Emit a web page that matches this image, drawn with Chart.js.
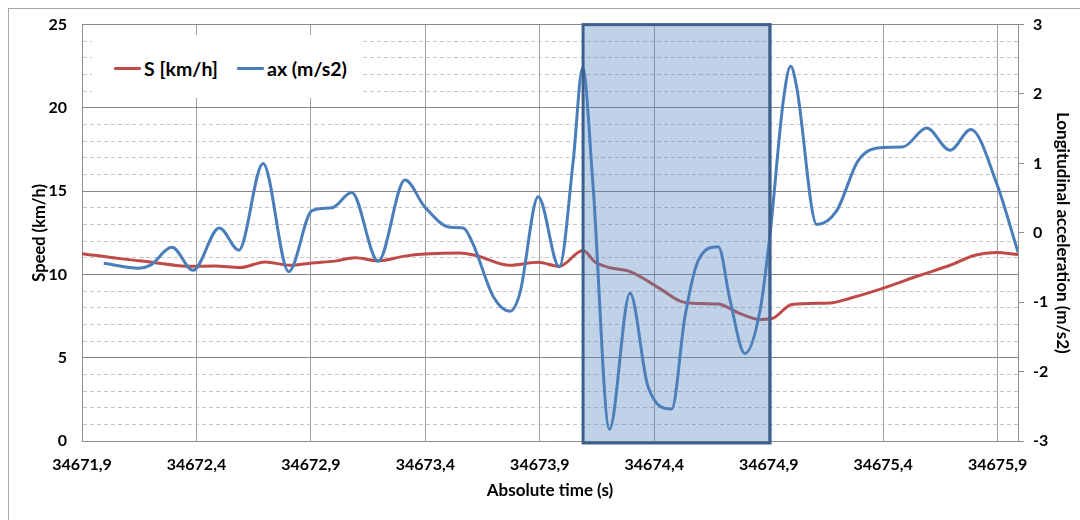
<!DOCTYPE html>
<html>
<head>
<meta charset="utf-8">
<script src="https://cdn.jsdelivr.net/npm/chart.js@4.4.1/dist/chart.umd.min.js"></script>
<style>
  html, body { margin: 0; padding: 0; background: #fff; width: 1080px; height: 520px; overflow: hidden; }
  #frame { position: absolute; left: 8px; top: 8px; width: 1200px; height: 700px; border: 1px solid #a8a8a8; }
  #wrap { position: absolute; left: 0; top: 0; width: 1080px; height: 520px; }
  #legend { position: absolute; left: 92px; top: 35px; width: 268px; height: 63px; background: #fff; }
  .item { position: absolute; top: 22px; height: 22px; display: flex; align-items: center;
          font: bold 19.5px Lato, "Open Sans", sans-serif; color: #000; white-space: nowrap; }
  .swatch { width: 27px; height: 3px; margin-right: 3px; border-radius: 1px; }
</style>
</head>
<body>
<div id="frame"></div>
<div id="wrap"><canvas id="chart" width="1080" height="520"></canvas></div>
<div id="legend"></div>
<script>
// Vehicle speed, km/h
const speedTime = [
  34671.900, 34672.066, 34672.197, 34672.372, 34672.481, 34672.590, 34672.700, 34672.809,
  34672.905, 34673.005, 34673.093, 34673.193, 34673.311, 34673.398, 34673.551, 34673.617,
  34673.770, 34673.892, 34673.984, 34674.089, 34674.141, 34674.207, 34674.294, 34674.425,
  34674.513, 34674.600, 34674.679, 34674.775, 34674.862, 34674.914, 34675.002, 34675.168,
  34675.255, 34675.395, 34675.561, 34675.692, 34675.801, 34675.893, 34675.989
];
const speedValues = [
  11.25, 10.95, 10.75, 10.49, 10.50, 10.41, 10.75, 10.55,
  10.69, 10.80, 11.00, 10.82, 11.10, 11.22, 11.29, 11.15,
  10.55, 10.73, 10.49, 11.43, 10.75, 10.40, 10.17, 9.15,
  8.40, 8.25, 8.22, 7.65, 7.30, 7.35, 8.20, 8.28,
  8.57, 9.15, 9.95, 10.55, 11.15, 11.31, 11.19
];

// Longitudinal acceleration, m/s2
const accelTime = [
  34671.995, 34672.148, 34672.197, 34672.293, 34672.385, 34672.500, 34672.585, 34672.691,
  34672.803, 34672.905, 34672.992, 34673.078, 34673.194, 34673.311, 34673.398, 34673.508,
  34673.566, 34673.608, 34673.697, 34673.770, 34673.813, 34673.893, 34673.985, 34674.046,
  34674.087, 34674.132, 34674.204, 34674.294, 34674.373, 34674.476, 34674.534, 34674.592,
  34674.680, 34674.731, 34674.796, 34674.862, 34674.906, 34674.964, 34674.996, 34675.022,
  34675.110, 34675.197, 34675.291, 34675.401, 34675.488, 34675.590, 34675.692, 34675.783,
  34675.896, 34675.989
];
const accelValues = [
  -0.44, -0.51, -0.47, -0.21, -0.54, 0.07, -0.25, 1.00,
  -0.56, 0.32, 0.36, 0.58, -0.41, 0.76, 0.37, 0.08,
  0.07, -0.16, -0.92, -1.13, -0.87, 0.52, -0.49, 1.04,
  2.38, 0.71, -2.83, -0.87, -2.22, -2.54, -1.21, -0.40,
  -0.20, -0.97, -1.74, -1.12, -0.01, 1.91, 2.40, 2.10,
  0.12, 0.32, 1.04, 1.23, 1.24, 1.51, 1.19, 1.49,
  0.71, -0.28
];

// Time axis ticks and the highlighted braking window
const timeTicks = [34671.9, 34672.4, 34672.9, 34673.4, 34673.9, 34674.4, 34674.9, 34675.4, 34675.9];
const highlightWindow = [34674.089, 34674.906];

const seriesLabels = ['S [km/h]', 'ax (m/s2)'];
const seriesColors = ['#BE4B48', '#4A7EBB'];

const FONT = 'Lato, "Open Sans", sans-serif';
const AXIS_GREY = '#8e8e8e';

const toPoints = (xs, ys) => xs.map((x, i) => ({ x, y: ys[i] }));

// Shaded window with a heavy outline, painted over the curves
const highlightPlugin = {
  id: 'highlightWindow',
  afterDatasetsDraw(chart) {
    const { ctx, chartArea, scales } = chart;
    const x0 = scales.x.getPixelForValue(highlightWindow[0]);
    const x1 = scales.x.getPixelForValue(highlightWindow[1]);
    const top = chartArea.top;
    const bottom = chartArea.bottom + 2;
    ctx.save();
    ctx.fillStyle = 'rgba(79,129,189,0.36)';
    ctx.fillRect(x0, top, x1 - x0, bottom - top);
    ctx.lineWidth = 3;
    ctx.strokeStyle = '#3C5F8D';
    ctx.strokeRect(x0, top, x1 - x0, bottom - top);
    ctx.restore();
  }
};

const chart = new Chart(document.getElementById('chart'), {
  type: 'line',
  data: {
    datasets: [
      {
        label: seriesLabels[0],
        data: toPoints(speedTime, speedValues),
        yAxisID: 'y',
        borderColor: seriesColors[0],
        backgroundColor: seriesColors[0],
        borderWidth: 3,
        pointRadius: 0,
        tension: 0.4,
        cubicInterpolationMode: 'monotone',
        order: 1
      },
      {
        label: seriesLabels[1],
        data: toPoints(accelTime, accelValues),
        yAxisID: 'y1',
        borderColor: seriesColors[1],
        backgroundColor: seriesColors[1],
        borderWidth: 3,
        pointRadius: 0,
        tension: 0.4,
        cubicInterpolationMode: 'monotone',
        order: 0
      }
    ]
  },
  options: {
    responsive: false,
    animation: false,
    events: [],
    layout: { padding: { top: 24, left: 0, right: 0, bottom: 0 } },
    plugins: {
      legend: { display: false },
      tooltip: { enabled: false }
    },
    scales: {
      x: {
        type: 'linear',
        min: timeTicks[0],
        max: speedTime[speedTime.length - 1],
        afterBuildTicks: (scale) => { scale.ticks = timeTicks.map(v => ({ value: v })); },
        afterFit: (scale) => { scale.height = 79; },
        grid: { color: '#a0a0a0', lineWidth: 1, drawTicks: false },
        border: { display: true, color: AXIS_GREY, width: 1 },
        ticks: {
          padding: 14,
          maxRotation: 0,
          autoSkip: false,
          color: '#000',
          font: { family: FONT, size: 16, weight: 'bold' },
          callback: (v) => Number(v).toFixed(1).replace('.', ',')
        },
        title: {
          display: true,
          text: 'Absolute time (s)',
          color: '#000',
          font: { family: FONT, size: 17, weight: 'bold' },
          padding: { top: 0, bottom: 19 }
        }
      },
      y: {
        position: 'left',
        min: 0,
        max: 25,
        afterFit: (scale) => { scale.width = 82; },
        grid: {
          drawTicks: false,
          color: (c) => (c.tick && c.tick.value % 5 === 0) ? '#878787' : '#c6c6c6',
          lineWidth: 1
        },
        border: {
          display: true,
          color: AXIS_GREY,
          dash: (c) => (c.tick && c.tick.value % 5 !== 0) ? [4, 3] : []
        },
        ticks: {
          stepSize: 1,
          padding: 15,
          autoSkip: false,
          color: '#000',
          font: { family: FONT, size: 16, weight: 'bold' },
          callback: (v) => (v % 5 === 0 ? String(v) : '')
        },
        title: {
          display: true,
          text: 'Speed (km/h)',
          color: '#000',
          font: { family: FONT, size: 16.5, weight: 'bold' },
          padding: { top: 30, bottom: 0 }
        }
      },
      y1: {
        position: 'right',
        min: -3,
        max: 3,
        afterFit: (scale) => { scale.width = 62; },
        grid: {
          drawOnChartArea: false,
          drawTicks: true,
          tickLength: 6,
          tickColor: AXIS_GREY,
          color: AXIS_GREY
        },
        border: { display: true, color: AXIS_GREY, width: 1 },
        ticks: {
          stepSize: 1,
          padding: 9,
          color: '#000',
          font: { family: FONT, size: 16, weight: 'bold' }
        },
        title: {
          display: true,
          text: 'Longitudinal acceleration (m/s2)',
          color: '#000',
          font: { family: FONT, size: 17, weight: 'bold' },
          padding: { top: 7, bottom: 0 }
        }
      }
    }
  },
  plugins: [highlightPlugin]
});

// Legend built from the datasets, laid over the top-left of the plot
const legendEl = document.getElementById('legend');
const legendOffsets = [22, 145];
chart.data.datasets.forEach((ds, i) => {
  const item = document.createElement('div');
  item.className = 'item';
  item.style.left = legendOffsets[i] + 'px';
  const sw = document.createElement('span');
  sw.className = 'swatch';
  sw.style.background = ds.borderColor;
  const txt = document.createElement('span');
  txt.textContent = ds.label;
  item.appendChild(sw);
  item.appendChild(txt);
  legendEl.appendChild(item);
});
</script>
</body>
</html>
